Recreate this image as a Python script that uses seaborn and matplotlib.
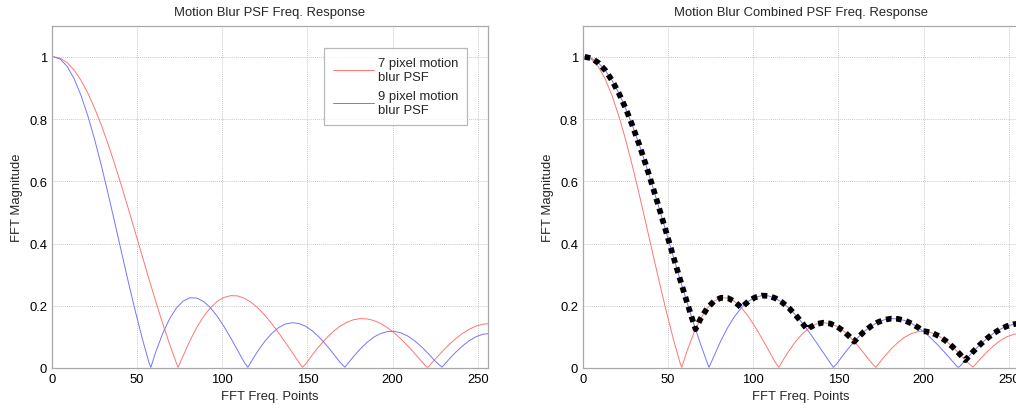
import matplotlib
matplotlib.use("Agg")
import matplotlib.pyplot as plt
import pandas as pd
import seaborn as sns

# Magnitude of the FFT of a 7-pixel motion blur PSF (x = FFT bin, 1-based)
freq_7 = [1, 5, 9, 13, 17, 21, 25, 29, 33, 37, 41, 45, 49, 53, 57, 61, 65, 69, 73, 74,
          77, 81, 85, 89, 93, 97, 101, 105, 109, 113, 117, 121, 125, 129, 133, 137, 141,
          145, 147, 149, 153, 157, 161, 165, 169, 173, 177, 181, 185, 189, 193, 197, 201,
          205, 209, 213, 217, 220, 221, 225, 229, 233, 237, 241, 245, 249, 253, 257]
mag_7 = [1.0000, 0.9952, 0.9808, 0.9572, 0.9246, 0.8837, 0.8351, 0.7796, 0.7182, 0.6518,
         0.5816, 0.5086, 0.4340, 0.3590, 0.2848, 0.2124, 0.1429, 0.0772, 0.0164, 0.0020,
         0.0389, 0.0880, 0.1303, 0.1655, 0.1934, 0.2138, 0.2268, 0.2326, 0.2316, 0.2241,
         0.2108, 0.1923, 0.1694, 0.1429, 0.1136, 0.0824, 0.0503, 0.0181, 0.0022, 0.0133,
         0.0432, 0.0708, 0.0955, 0.1166, 0.1338, 0.1467, 0.1550, 0.1587, 0.1578, 0.1525,
         0.1429, 0.1294, 0.1124, 0.0926, 0.0704, 0.0465, 0.0216, 0.0027, 0.0036, 0.0284,
         0.0522, 0.0742, 0.0940, 0.1110, 0.1246, 0.1347, 0.1408, 0.1429]

# Magnitude of the FFT of a 9-pixel motion blur PSF
freq_9 = [1, 5, 9, 13, 17, 21, 25, 29, 33, 37, 41, 45, 49, 53, 57, 58, 61, 65, 69, 73,
          77, 81, 85, 89, 93, 97, 101, 105, 109, 113, 115, 117, 121, 125, 129, 133, 137,
          141, 145, 149, 153, 157, 161, 165, 169, 172, 173, 177, 181, 185, 189, 193, 197,
          201, 205, 209, 213, 217, 221, 225, 229, 233, 237, 241, 245, 249, 253, 257]
mag_9 = [1.0000, 0.9920, 0.9682, 0.9292, 0.8763, 0.8108, 0.7346, 0.6497, 0.5586, 0.4636,
         0.3673, 0.2721, 0.1804, 0.0945, 0.0162, 0.0020, 0.0528, 0.1111, 0.1579, 0.1926,
         0.2150, 0.2256, 0.2248, 0.2138, 0.1938, 0.1663, 0.1331, 0.0959, 0.0567, 0.0172,
         0.0021, 0.0208, 0.0557, 0.0862, 0.1111, 0.1296, 0.1412, 0.1456, 0.1430, 0.1338,
         0.1187, 0.0984, 0.0742, 0.0473, 0.0190, 0.0024, 0.0094, 0.0366, 0.0613, 0.0825,
         0.0994, 0.1111, 0.1173, 0.1179, 0.1128, 0.1024, 0.0873, 0.0682, 0.0461, 0.0221,
         0.0028, 0.0273, 0.0503, 0.0708, 0.0878, 0.1006, 0.1084, 0.1111]

# Combined response: the larger of the two magnitudes at every bin
freq_comb = [1, 5, 9, 13, 17, 21, 25, 29, 33, 37, 41, 45, 49, 53, 57, 61, 65, 66.1,
             69, 73, 77, 81, 85, 89, 93, 97, 101, 105, 109, 113, 117, 121, 125, 129,
             131.7, 133, 137, 141, 145, 149, 153, 157, 159.3, 161, 165, 169, 173, 177,
             181, 185, 189, 193, 197, 199.8, 201, 205, 209, 213, 217, 221, 224.5, 225,
             229, 233, 237, 241, 245, 249, 253, 257]
mag_comb = [1.0000, 0.9952, 0.9808, 0.9572, 0.9246, 0.8837, 0.8351, 0.7796, 0.7182,
            0.6518, 0.5816, 0.5086, 0.4340, 0.3590, 0.2848, 0.2124, 0.1429, 0.1248,
            0.1579, 0.1926, 0.2150, 0.2256, 0.2248, 0.2138, 0.1938, 0.2138, 0.2268,
            0.2326, 0.2316, 0.2241, 0.2108, 0.1923, 0.1694, 0.1429, 0.1234, 0.1296,
            0.1412, 0.1456, 0.1430, 0.1338, 0.1187, 0.0984, 0.0847, 0.0955, 0.1166,
            0.1338, 0.1467, 0.1550, 0.1587, 0.1578, 0.1525, 0.1429, 0.1294, 0.1177,
            0.1179, 0.1128, 0.1024, 0.0873, 0.0682, 0.0461, 0.0252, 0.0284, 0.0522,
            0.0742, 0.0940, 0.1110, 0.1246, 0.1347, 0.1408, 0.1429]

x_ticks = [0, 50, 100, 150, 200, 250]
y_ticks = [0, 0.2, 0.4, 0.6, 0.8, 1.0]
y_tick_labels = ["0", "0.2", "0.4", "0.6", "0.8", "1"]
legend_labels = ["7 pixel motion\nblur PSF", "9 pixel motion\nblur PSF"]

df7 = pd.DataFrame({"freq": freq_7, "mag": mag_7})
df9 = pd.DataFrame({"freq": freq_9, "mag": mag_9})
dfc = pd.DataFrame({"freq": freq_comb, "mag": mag_comb})

sns.set_style("white")
plt.rcParams["font.family"] = ["Liberation Sans", "DejaVu Sans"]
FS = 9.4
RED = "#ff7575"
BLUE = "#7575ff"
SPINE = "#a8a8a8"

fig = plt.figure(figsize=(10.16, 4.10), dpi=100)
ax1 = fig.add_axes([0.0512, 0.1, 0.4291, 0.8349])
ax2 = fig.add_axes([0.5738, 0.1, 0.4291, 0.8349])


def style_axes(ax, title):
    ax.set_xlim(0, 256)
    ax.set_ylim(0, 1.1)
    ax.set_xticks(x_ticks)
    ax.set_xticklabels([str(t) for t in x_ticks])
    ax.set_yticks(y_ticks)
    ax.set_yticklabels(y_tick_labels)
    ax.tick_params(length=0, labelsize=FS, pad=3.5, colors="black")
    ax.grid(True, linestyle=(0, (1, 1.5)), color="#b4b4b4", linewidth=0.6)
    ax.set_axisbelow(True)
    for sp in ax.spines.values():
        sp.set_color(SPINE)
        sp.set_linewidth(0.9)
    ax.set_title(title, fontsize=FS, pad=7.5)
    ax.set_xlabel("FFT Freq. Points", fontsize=FS, labelpad=4)
    ax.set_ylabel("FFT Magnitude", fontsize=FS, labelpad=4.5)


# Left panel: the two individual PSF responses
sns.lineplot(data=df7, x="freq", y="mag", ax=ax1, color=RED, linewidth=0.7,
             estimator=None, label=legend_labels[0])
sns.lineplot(data=df9, x="freq", y="mag", ax=ax1, color=BLUE, linewidth=0.7,
             estimator=None, label=legend_labels[1])
style_axes(ax1, "Motion Blur PSF Freq. Response")
leg = ax1.legend(loc="upper right", bbox_to_anchor=(0.952, 0.936), borderaxespad=0,
                 fontsize=FS, frameon=True, fancybox=False, handlelength=3.1,
                 handletextpad=0.3, labelspacing=0.6, borderpad=0.7)
leg.get_frame().set_edgecolor(SPINE)
leg.get_frame().set_linewidth(0.9)

# Right panel: both responses with the combined envelope on top
sns.lineplot(data=df9, x="freq", y="mag", ax=ax2, color=RED, linewidth=0.7,
             estimator=None)
sns.lineplot(data=df7, x="freq", y="mag", ax=ax2, color=BLUE, linewidth=0.7,
             estimator=None)
sns.lineplot(data=dfc, x="freq", y="mag", ax=ax2, color="black", linewidth=4.1,
             estimator=None)
ax2.lines[-1].set_linestyle((0, (1, 0.8)))
ax2.lines[-1].set_dash_capstyle("butt")
style_axes(ax2, "Motion Blur Combined PSF Freq. Response")

fig.savefig("out.png", dpi=100)
